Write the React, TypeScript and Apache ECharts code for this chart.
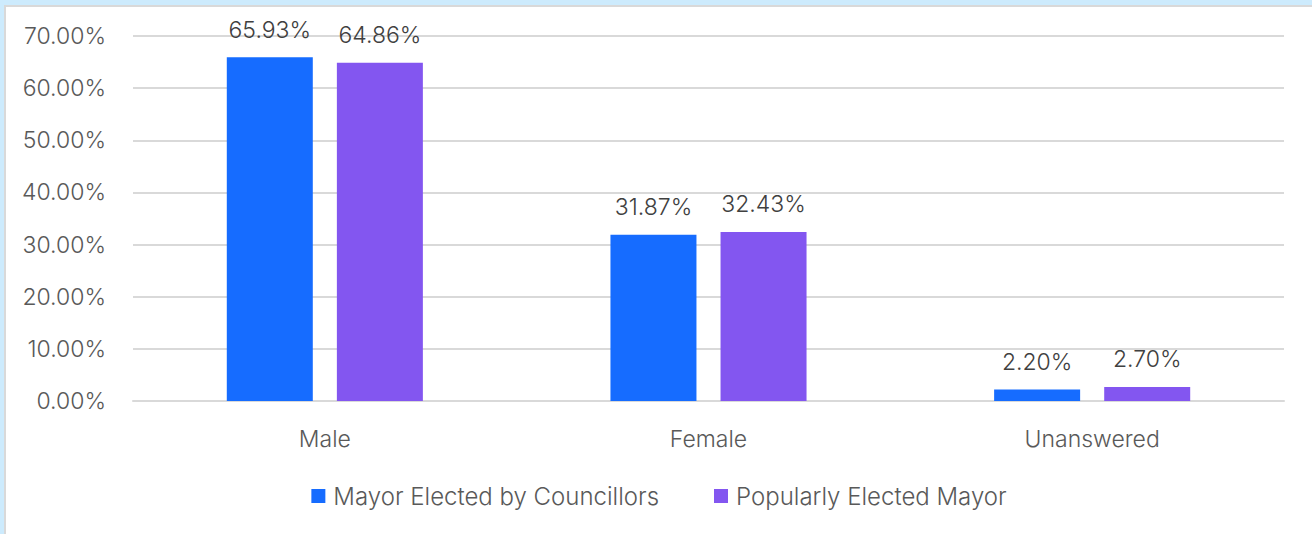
import React, { useEffect, useRef } from "react";
import * as echarts from "echarts";

const categories = ["Male", "Female", "Unanswered"];
const seriesNames = ["Mayor Elected by Councillors", "Popularly Elected Mayor"];
const councillorsValues = [65.93, 31.87, 2.2];
const popularValues = [64.86, 32.43, 2.7];
const colors = ["#166CFF", "#8356F0"];

const FONT = "Inter, 'Noto Sans', sans-serif";
const FS = 23;
const FW = 300;

export default function App() {
  const ref = useRef<HTMLDivElement>(null);
  useEffect(() => {
    if (!ref.current) return;
    const chart = echarts.init(ref.current, undefined, { renderer: "svg" });
    const labelCfg = {
      show: true,
      position: "top" as const,
      distance: 16,
      color: "#404040",
      fontSize: FS,
      fontWeight: FW,
      fontFamily: FONT,
      formatter: (p: any) => Number(p.value).toFixed(2) + "%",
    };
    chart.setOption({
      animation: false,
      textStyle: { fontFamily: FONT },
      grid: { left: 127, right: 28, top: 29, bottom: 133, containLabel: false },
      legend: {
        left: "center",
        top: 472,
        itemWidth: 14,
        itemHeight: 14,
        itemGap: 55,
        icon: "rect",
        textStyle: {
          fontSize: 24,
          fontWeight: FW,
          color: "#595959",
          fontFamily: FONT,
          padding: [0, 0, 0, 3],
        },
        data: seriesNames,
      },
      xAxis: {
        type: "category",
        data: categories,
        axisLine: { show: true, lineStyle: { color: "#d9d9d9", width: 2 } },
        axisTick: { show: false },
        axisLabel: { color: "#595959", fontSize: FS, fontWeight: FW, margin: 26, fontFamily: FONT },
      },
      yAxis: {
        type: "value",
        min: 0,
        max: 70,
        interval: 10,
        axisLine: { show: false },
        axisTick: { show: false },
        splitLine: { lineStyle: { color: "#d9d9d9", width: 2 } },
        axisLabel: {
          color: "#595959",
          fontSize: FS,
          fontWeight: FW,
          margin: 27,
          fontFamily: FONT,
          formatter: (v: number) => v.toFixed(2) + "%",
        },
      },
      series: [
        {
          name: seriesNames[0],
          type: "bar",
          data: councillorsValues,
          barWidth: 86,
          barGap: "28%",
          itemStyle: { color: colors[0] },
          label: labelCfg,
        },
        {
          name: seriesNames[1],
          type: "bar",
          data: popularValues,
          barWidth: 86,
          barGap: "28%",
          itemStyle: { color: colors[1] },
          label: labelCfg,
        },
      ],
    });
    return () => chart.dispose();
  }, []);

  return (
    <div
      style={{
        position: "fixed",
        left: 0,
        top: 0,
        width: 1312,
        height: 534,
        background: "#CDEBFD",
        overflow: "hidden",
      }}
    >
      <div
        style={{
          position: "absolute",
          left: 4,
          top: 5,
          width: 1308,
          height: 529,
          background: "#ffffff",
          borderLeft: "2px solid #d9d9d9",
          borderTop: "2px solid #d9d9d9",
        }}
      >
        <div ref={ref} style={{ width: 1306, height: 527 }} />
      </div>
    </div>
  );
}
